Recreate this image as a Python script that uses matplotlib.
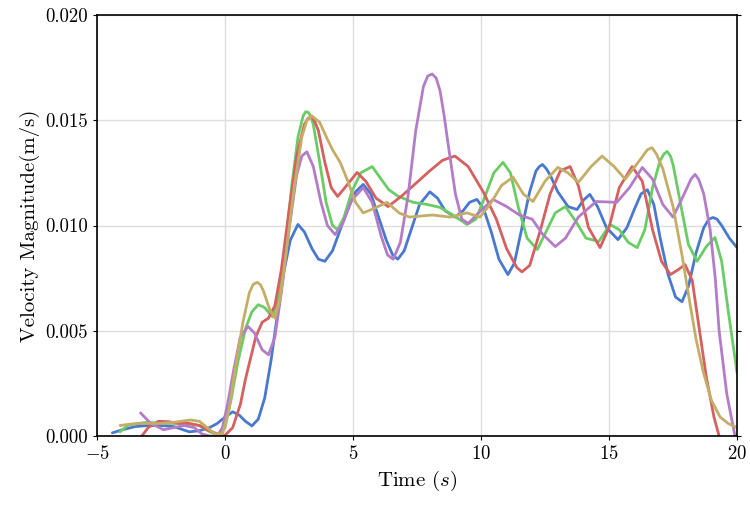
import matplotlib
matplotlib.use("Agg")
import matplotlib.pyplot as plt
from matplotlib.ticker import FormatStrFormatter

plt.rcParams['font.family'] = 'cmr10'
plt.rcParams['mathtext.fontset'] = 'cm'
plt.rcParams['axes.formatter.use_mathtext'] = True
plt.rcParams['axes.unicode_minus'] = True

# velocity traces (time in s, speed in m/s)
t_blue = [-4.4, -4.0, -3.5, -3.0, -2.5, -2.0, -1.4, -1.0, -0.6, -0.3, 0.0, 0.3, 0.55, 0.8, 1.05,
          1.3, 1.55, 1.8, 2.05, 2.3, 2.55, 2.85, 3.1, 3.4, 3.65, 3.9, 4.2, 4.5, 4.8, 5.1, 5.4,
          5.7, 6.0, 6.3, 6.55, 6.75, 7.0, 7.3, 7.6, 8.0, 8.3, 8.6, 8.98, 9.3, 9.55, 9.84, 10.1,
          10.4, 10.7, 11.05, 11.3, 11.6, 11.9, 12.15, 12.28, 12.4, 12.55, 12.7, 13.0, 13.4, 13.75,
          14.0, 14.25, 14.55, 14.9, 15.35, 15.7, 16.0, 16.25, 16.5, 16.75, 17.0, 17.3, 17.6, 17.85,
          18.1, 18.4, 18.7, 18.9, 19.06, 19.22, 19.4, 19.7, 20.0]
v_blue = [0.00015, 0.0003, 0.00045, 0.0005, 0.0005, 0.00045, 0.0002, 0.00025, 0.0004, 0.0006,
          0.0009, 0.00115, 0.001, 0.0007, 0.00048, 0.0008, 0.0018, 0.0036, 0.0058, 0.0078, 0.0093,
          0.01005, 0.0097, 0.0089, 0.0084, 0.0083, 0.0088, 0.0098, 0.0108, 0.0116, 0.01195, 0.0115,
          0.0104, 0.0093, 0.0086, 0.0084, 0.0088, 0.0099, 0.0110, 0.0116, 0.0113, 0.0107, 0.0104,
          0.0107, 0.0111, 0.01124, 0.0108, 0.0097, 0.0084, 0.00767, 0.0082, 0.0099, 0.0116, 0.0126,
          0.0128, 0.0129, 0.0127, 0.0124, 0.0116, 0.0109, 0.01076, 0.0112, 0.01148, 0.0109, 0.0099,
          0.00933, 0.0099, 0.0108, 0.0115, 0.0117, 0.0110, 0.0094, 0.0077, 0.0066, 0.00638, 0.0071,
          0.0087, 0.0099, 0.0103, 0.01038, 0.0103, 0.0100, 0.0094, 0.00895]

t_green = [-4.1, -3.8, -3.4, -3.0, -2.5, -2.0, -1.5, -1.0, -0.6, -0.25, 0.0, 0.25, 0.5, 0.8, 1.05,
           1.3, 1.55, 1.85, 2.1, 2.35, 2.6, 2.85, 3.05, 3.15, 3.25, 3.35, 3.45, 3.7, 3.95, 4.2, 4.4,
           4.65, 4.95, 5.3, 5.75, 6.1, 6.4, 6.75, 7.35, 7.9, 8.4, 8.9, 9.45, 9.8, 10.1, 10.5, 10.86,
           11.15, 11.45, 11.8, 12.2, 12.5, 12.9, 13.3, 13.7, 14.1, 14.6, 15.04, 15.4, 15.75, 16.1,
           16.4, 16.7, 17.0, 17.15, 17.27, 17.4, 17.5, 17.8, 18.1, 18.44, 18.8, 19.14, 19.4, 19.65,
           19.85, 20.0]
v_green = [0.0002, 0.0005, 0.0006, 0.00065, 0.0006, 0.0006, 0.0006, 0.0005, 0.0002, 0.00005,
           0.0004, 0.0018, 0.0035, 0.0051, 0.0059, 0.00624, 0.0061, 0.00567, 0.0066, 0.0089, 0.0118,
           0.0142, 0.0152, 0.0154, 0.01538, 0.0152, 0.0148, 0.0130, 0.0111, 0.0100, 0.0098, 0.0104,
           0.0116, 0.0125, 0.0128, 0.0122, 0.0117, 0.0114, 0.0111, 0.0110, 0.01086, 0.0105, 0.01005,
           0.0103, 0.0112, 0.0125, 0.0130, 0.0125, 0.0109, 0.0094, 0.00886, 0.0096, 0.0106, 0.0109,
           0.0102, 0.0094, 0.00924, 0.01005, 0.0098, 0.0092, 0.00895, 0.0098, 0.0118, 0.0131, 0.0134,
           0.01352, 0.0133, 0.0129, 0.0110, 0.0091, 0.0083, 0.0090, 0.00943, 0.0083, 0.0060, 0.0043,
           0.003]

t_red = [-3.25, -3.0, -2.6, -2.2, -1.8, -1.4, -1.0, -0.7, -0.3, 0.0, 0.3, 0.6, 0.8, 0.98, 1.2, 1.45,
         1.7, 1.95, 2.2, 2.5, 2.8, 3.1, 3.25, 3.4, 3.52, 3.65, 3.9, 4.15, 4.4, 4.75, 5.16, 5.5, 5.9,
         6.37, 6.9, 7.5, 8.0, 8.5, 8.98, 9.5, 10.1, 10.6, 11.0, 11.4, 11.6, 11.9, 12.3, 12.7, 13.1,
         13.48, 13.8, 14.2, 14.65, 15.0, 15.4, 15.9, 16.3, 16.7, 17.05, 17.4, 17.7, 17.97, 18.25,
         18.5, 18.8, 19.1, 19.3, 19.5]
v_red = [0.0, 0.0004, 0.0007, 0.00068, 0.0006, 0.0006, 0.0005, 0.0003, 0.0001, 0.00003, 0.0004,
         0.0015, 0.0027, 0.0036, 0.0047, 0.0054, 0.0056, 0.0062, 0.0079, 0.0107, 0.0133, 0.0148,
         0.0151, 0.01514, 0.0149, 0.0145, 0.0130, 0.0118, 0.01138, 0.0119, 0.01252, 0.0121, 0.0113,
         0.0109, 0.0114, 0.01205, 0.0126, 0.0131, 0.0133, 0.0128, 0.01157, 0.0103, 0.0089, 0.0080,
         0.0078, 0.0081, 0.0097, 0.0115, 0.0126, 0.0128, 0.0119, 0.0099, 0.00895, 0.0099, 0.0118,
         0.0128, 0.0121, 0.0098, 0.0083, 0.00767, 0.0079, 0.00814, 0.0074, 0.0053, 0.0028, 0.0009,
         0.0, -0.001]

t_purple = [-3.3, -2.9, -2.4, -2.0, -1.6, -1.2, -0.9, -0.6, -0.3, -0.1, 0.1, 0.35, 0.6, 0.9, 1.15,
            1.45, 1.7, 1.95, 2.2, 2.5, 2.8, 3.0, 3.2, 3.45, 3.75, 4.0, 4.3, 4.6, 4.95, 5.4, 5.75,
            6.1, 6.35, 6.57, 6.85, 7.15, 7.45, 7.75, 7.92, 8.09, 8.25, 8.4, 8.55, 8.7, 9.0, 9.25,
            9.5, 9.9, 10.47, 11.0, 11.5, 12.0, 12.4, 12.9, 13.3, 13.8, 14.5, 15.3, 15.8, 16.3,
            16.7, 17.1, 17.5, 17.9, 18.2, 18.36, 18.5, 18.7, 18.95, 19.15, 19.3, 19.6, 19.92, 20.0]
v_purple = [0.0011, 0.0006, 0.0003, 0.0004, 0.0005, 0.0004, 0.0001, 0.0, 0.0, 0.0004, 0.0015,
            0.0032, 0.0047, 0.0052, 0.0049, 0.0041, 0.00386, 0.0047, 0.0068, 0.0098, 0.0124, 0.0133,
            0.0135, 0.0128, 0.0111, 0.0100, 0.00957, 0.0101, 0.0112, 0.0118, 0.0111, 0.0095, 0.0086,
            0.0084, 0.0092, 0.0114, 0.0145, 0.0166, 0.0171, 0.0172, 0.0170, 0.0164, 0.0153, 0.0140,
            0.0115, 0.0103, 0.0101, 0.0106, 0.01124, 0.0109, 0.0105, 0.0103, 0.0096, 0.0090, 0.0094,
            0.0104, 0.01114, 0.0111, 0.0118, 0.01276, 0.0122, 0.0110, 0.0104, 0.0114, 0.0122, 0.01243,
            0.0122, 0.0115, 0.0098, 0.0075, 0.0050, 0.0020, 0.0, -0.0005]

t_gold = [-4.1, -3.6, -3.0, -2.5, -2.0, -1.6, -1.35, -1.0, -0.7, -0.4, -0.1, 0.15, 0.4, 0.7, 0.95,
          1.1, 1.25, 1.38, 1.5, 1.75, 1.95, 2.15, 2.4, 2.7, 3.0, 3.2, 3.4, 3.7, 4.0, 4.2, 4.5, 4.8,
          5.1, 5.4, 5.8, 6.33, 6.8, 7.2, 8.1, 8.8, 9.45, 9.96, 10.35, 10.8, 11.25, 11.65, 12.03,
          12.5, 13.0, 13.4, 13.8, 14.3, 14.73, 15.2, 15.63, 16.2, 16.5, 16.68, 16.85, 17.1, 17.5,
          17.85, 18.16, 18.4, 18.67, 19.0, 19.34, 19.65, 20.0]
v_gold = [0.0005, 0.00058, 0.0006, 0.0006, 0.00065, 0.00072, 0.00076, 0.0007, 0.0004, 0.0001,
          0.0001, 0.0012, 0.0032, 0.0054, 0.0068, 0.0072, 0.0073, 0.0072, 0.0069, 0.0060, 0.0056,
          0.0065, 0.0088, 0.0118, 0.0142, 0.0150, 0.0152, 0.0149, 0.0141, 0.0136, 0.0130, 0.0121,
          0.0111, 0.0106, 0.0108, 0.0111, 0.0106, 0.0104, 0.0105, 0.0104, 0.0106, 0.0104, 0.0110,
          0.0119, 0.0123, 0.0115, 0.01114, 0.0121, 0.01276, 0.0125, 0.01205, 0.0128, 0.0133, 0.0128,
          0.0122, 0.0131, 0.0136, 0.0137, 0.0134, 0.0127, 0.0109, 0.0086, 0.0063, 0.0046, 0.0031,
          0.0017, 0.0009, 0.0006, 0.0004]

series = [(t_blue, v_blue, '#4878CF'),
          (t_green, v_green, '#6ACC65'),
          (t_red, v_red, '#D65F5F'),
          (t_purple, v_purple, '#B47CC7'),
          (t_gold, v_gold, '#C4AD66')]

fig = plt.figure(figsize=(7.5, 5.07), dpi=100)
ax = fig.add_axes([0.1293, 0.140, 0.8534, 0.8304])

for t, v, c in series:
    ax.plot(t, v, color=c, lw=2.0, solid_joinstyle='round', solid_capstyle='round')

ax.set_xlim(-5, 20)
ax.set_ylim(0, 0.02)
ax.set_xticks([-5, 0, 5, 10, 15, 20])
ax.set_yticks([0.0, 0.005, 0.010, 0.015, 0.020])
ax.yaxis.set_major_formatter(FormatStrFormatter('%.3f'))
ax.grid(True, color='#dddddd', lw=1.0)
ax.set_axisbelow(True)
for s in ax.spines.values():
    s.set_color('black')
    s.set_linewidth(1.2)
ax.tick_params(direction='out', length=3, width=0.8, labelsize=13.5, top=False, right=True)

ax.set_xlabel('Time ($s$)', fontsize=15)
ax.set_ylabel('Velocity Magnitude(m/s)', fontsize=15)

fig.savefig('out.png', dpi=100)
